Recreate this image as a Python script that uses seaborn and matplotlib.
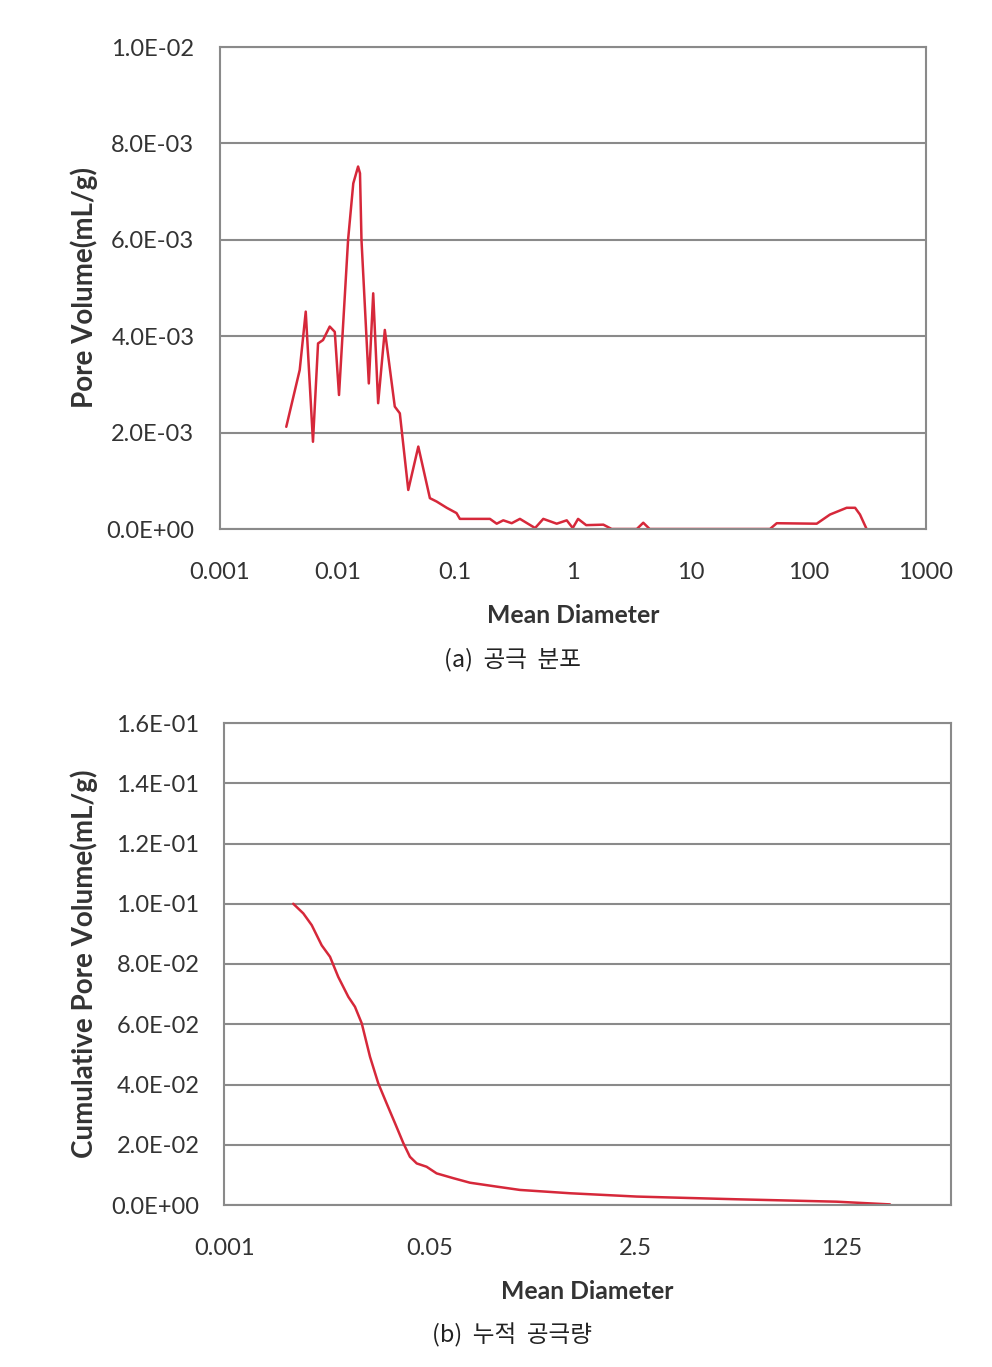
import numpy as np
import pandas as pd
import matplotlib
matplotlib.use("Agg")
import matplotlib.pyplot as plt
import seaborn as sns
from matplotlib.ticker import FuncFormatter, FixedLocator, NullLocator

# ---- data (a) pore size distribution ----
diam_a = [0.00369, 0.0048, 0.0054, 0.00622, 0.00687, 0.00757, 0.00863, 0.00953,
          0.01035, 0.01236, 0.01368, 0.01503, 0.0156, 0.01606, 0.01854, 0.0202, 0.02225, 0.02535,
          0.0308, 0.034, 0.0401, 0.0488, 0.0612, 0.0698, 0.0851, 0.103, 0.110,
          0.198, 0.226, 0.257, 0.303, 0.356, 0.479, 0.562, 0.731, 0.889, 1.0,
          1.11, 1.3, 1.82, 2.14, 3.5, 3.97, 4.5, 47.3, 54, 118, 153, 212, 250,
          275, 313]
pore_vol = [2.12e-3, 3.3e-3, 4.51e-3, 1.81e-3, 3.85e-3, 3.92e-3, 4.2e-3, 4.09e-3,
            2.78e-3, 6.0e-3, 7.17e-3, 7.52e-3, 7.38e-3, 6.0e-3, 3.02e-3, 4.89e-3, 2.61e-3, 4.13e-3,
            2.54e-3, 2.4e-3, 0.81e-3, 1.71e-3, 0.64e-3, 0.57e-3, 0.44e-3, 0.33e-3, 0.21e-3,
            0.21e-3, 0.11e-3, 0.18e-3, 0.12e-3, 0.21e-3, 0.02e-3, 0.21e-3, 0.11e-3, 0.18e-3, 0.02e-3,
            0.21e-3, 0.08e-3, 0.09e-3, 0.0, 0.0, 0.13e-3, 0.0, 0.0, 0.12e-3, 0.11e-3, 0.3e-3, 0.44e-3, 0.44e-3,
            0.3e-3, 0.0]

# ---- data (b) cumulative pore volume ----
diam_b = [0.00371, 0.00449, 0.00527, 0.00637, 0.00746, 0.00873, 0.01057, 0.01199,
          0.01364, 0.01596, 0.01867, 0.0219, 0.0257, 0.0301, 0.0341, 0.0388, 0.0468,
          0.0566, 0.0778, 0.1067, 0.1775, 0.276, 0.715, 2.54, 16.98, 113.6, 313.7]
cum_vol = [0.100, 0.0968, 0.0929, 0.0862, 0.0824, 0.0757, 0.0691, 0.0658,
           0.0603, 0.0492, 0.0404, 0.0337, 0.0271, 0.0205, 0.0160, 0.0138, 0.0127,
           0.0105, 0.0089, 0.0074, 0.0061, 0.0050, 0.0039, 0.0028, 0.0019, 0.0011, 0.0002]

xticks_a = [0.001, 0.01, 0.1, 1, 10, 100, 1000]
xticklabels_a = ["0.001", "0.01", "0.1", "1", "10", "100", "1000"]
yticks_a = [0, 0.002, 0.004, 0.006, 0.008, 0.010]
xticks_b = [0.001, 0.05, 2.5, 125]
xticklabels_b = ["0.001", "0.05", "2.5", "125"]
yticks_b = [0, 0.02, 0.04, 0.06, 0.08, 0.10, 0.12, 0.14, 0.16]

ylabel_a = "Pore Volume(mL/g)"
ylabel_b = "Cumulative Pore Volume(mL/g)"
xlabel = "Mean Diameter"
caption_a = "(a)  공극  분포"
caption_b = "(b)  누적  공극량"

sns.set_style("white")
plt.rcParams['font.family'] = ['Lato', 'Noto Sans CJK KR', 'DejaVu Sans']

LINE = '#d6283a'
GRID = '#8a8a8a'
TXT = '#333333'

fig = plt.figure(figsize=(9.92, 13.67), dpi=100)
ax1 = fig.add_axes([219.5/992, 1-529/1367, 706.5/992, 482/1367])
ax2 = fig.add_axes([224.3/992, 1-1205/1367, 726.7/992, 482/1367])

df_a = pd.DataFrame({"d": diam_a, "v": pore_vol})
df_b = pd.DataFrame({"d": diam_b, "v": cum_vol})

sns.lineplot(data=df_a, x="d", y="v", ax=ax1, color=LINE, lw=1.8, estimator=None)
sns.lineplot(data=df_b, x="d", y="v", ax=ax2, color=LINE, lw=1.8, estimator=None)

efmt = FuncFormatter(lambda v, p: f"{v:.1E}")

def style(ax, xt, xtl, yt, ylab, base):
    ax.set_xscale('log', base=base)
    ax.set_xlim(0.001, 1000)
    ax.set_ylim(yt[0], yt[-1])
    ax.xaxis.set_major_locator(FixedLocator(xt))
    ax.xaxis.set_minor_locator(NullLocator())
    ax.set_xticklabels(xtl)
    ax.set_yticks(yt)
    ax.yaxis.set_major_formatter(efmt)
    ax.grid(axis='y', color=GRID, lw=1.5)
    ax.grid(axis='x', visible=False)
    ax.set_axisbelow(True)
    for s in ax.spines.values():
        s.set_visible(True)
        s.set_color(GRID)
        s.set_linewidth(1.5)
    ax.tick_params(axis='x', direction='out', length=6, width=1.2, color=GRID,
                   pad=18, labelsize=17, labelcolor=TXT)
    ax.tick_params(axis='y', direction='out', length=5, width=1.2, color=GRID,
                   pad=13, labelsize=17, labelcolor=TXT)
    ax.set_xlabel(xlabel, fontsize=17.8, fontweight='bold', color=TXT)
    ax.set_ylabel(ylab, fontsize=20, fontweight='bold', color=TXT)
    ax.xaxis.set_label_coords(0.5, -0.155)

style(ax1, xticks_a, xticklabels_a, yticks_a, ylabel_a, 10)
style(ax2, xticks_b, xticklabels_b, yticks_b, ylabel_b, 50)
ax1.yaxis.set_label_coords(-0.172, 0.5)
ax2.yaxis.set_label_coords(-0.174, 0.5)

fig.text(512/992, 1-660/1367, caption_a, ha='center', va='center', fontsize=17,
         family=['Noto Sans CJK KR', 'DejaVu Sans'], color='#222222')
fig.text(512/992, 1-1335/1367, caption_b, ha='center', va='center', fontsize=17,
         family=['Noto Sans CJK KR', 'DejaVu Sans'], color='#222222')

fig.savefig("out.png", dpi=100)
